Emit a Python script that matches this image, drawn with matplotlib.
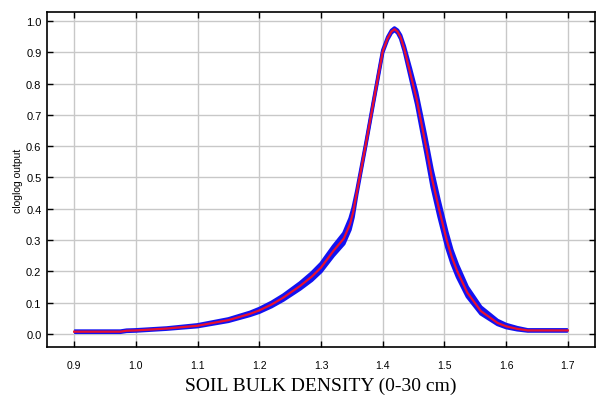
import matplotlib
matplotlib.use("Agg")
import matplotlib.pyplot as plt
import numpy as np

# Soil bulk density (x) and cloglog output (mean, lower, upper)
density = [0.900, 0.950, 0.975, 0.985, 1.000, 1.050, 1.100, 1.150, 1.185, 1.200,
           1.220, 1.239, 1.266, 1.285, 1.300, 1.320, 1.337, 1.347, 1.352, 1.358,
           1.364, 1.373, 1.386, 1.400, 1.408, 1.414, 1.419, 1.424, 1.429, 1.435,
           1.445, 1.455, 1.463, 1.470, 1.480, 1.491, 1.504, 1.512, 1.521, 1.537,
           1.559, 1.586, 1.600, 1.618, 1.635, 1.660, 1.700]
mean = [0.007, 0.007, 0.007, 0.010, 0.011, 0.017, 0.026, 0.044, 0.064, 0.075,
        0.094, 0.116, 0.153, 0.183, 0.212, 0.265, 0.305, 0.351, 0.388, 0.452,
        0.515, 0.610, 0.752, 0.903, 0.945, 0.966, 0.974, 0.966, 0.948, 0.910,
        0.830, 0.750, 0.670, 0.600, 0.495, 0.401, 0.297, 0.245, 0.199, 0.132,
        0.073, 0.035, 0.024, 0.016, 0.011, 0.011, 0.011]
lower = [0.005, 0.005, 0.005, 0.008, 0.009, 0.015, 0.023, 0.040, 0.059, 0.069,
         0.087, 0.108, 0.143, 0.171, 0.199, 0.250, 0.288, 0.333, 0.373, 0.446,
         0.510, 0.606, 0.748, 0.899, 0.941, 0.962, 0.970, 0.962, 0.943, 0.903,
         0.818, 0.733, 0.650, 0.578, 0.470, 0.376, 0.275, 0.226, 0.182, 0.119,
         0.064, 0.030, 0.020, 0.013, 0.009, 0.009, 0.009]
upper = [0.009, 0.009, 0.009, 0.012, 0.013, 0.019, 0.029, 0.048, 0.069, 0.081,
         0.101, 0.124, 0.163, 0.195, 0.225, 0.280, 0.322, 0.369, 0.403, 0.458,
         0.520, 0.614, 0.756, 0.907, 0.949, 0.970, 0.978, 0.971, 0.955, 0.920,
         0.848, 0.772, 0.696, 0.628, 0.525, 0.430, 0.325, 0.269, 0.221, 0.150,
         0.086, 0.043, 0.030, 0.020, 0.013, 0.013, 0.013]

xticks = [0.9, 1.0, 1.1, 1.2, 1.3, 1.4, 1.5, 1.6, 1.7]
yticks = [0.0, 0.1, 0.2, 0.3, 0.4, 0.5, 0.6, 0.7, 0.8, 0.9, 1.0]

fig = plt.figure(figsize=(5.97, 4.02), dpi=100)
ax = fig.add_axes([0.0787, 0.1343, 0.918, 0.8334])

blue = "#1212f2"
ax.fill_between(density, lower, upper, color=blue, lw=0, zorder=2)
ax.plot(density, lower, color=blue, lw=2.5, solid_capstyle="butt",
        solid_joinstyle="round", zorder=2)
ax.plot(density, upper, color=blue, lw=2.5, solid_capstyle="butt",
        solid_joinstyle="round", zorder=2)
ax.plot(density, mean, color="#e8102e", lw=1.6, solid_joinstyle="round", zorder=3)

ax.set_xlim(0.856, 1.744)
ax.set_ylim(-0.042, 1.029)
ax.set_xticks(xticks)
ax.set_yticks(yticks)
ax.set_xticklabels([f"{v:.1f}" for v in xticks], fontsize=7.5, family="Liberation Sans")
ax.set_yticklabels([f"{v:.1f}" for v in yticks], fontsize=8, family="Liberation Sans")
ax.tick_params(direction="in", top=True, right=True, length=4, width=1, color="black")
ax.tick_params(axis="x", pad=9)
ax.tick_params(axis="y", pad=4)
ax.grid(True, color="#c8c8c8", lw=1.0, zorder=0)
ax.set_axisbelow(True)
for s in ax.spines.values():
    s.set_linewidth(1.2)

ax.set_ylabel("cloglog output", fontsize=7.5, family="Liberation Sans", labelpad=2)
ax.set_xlabel("SOIL BULK DENSITY (0-30 cm)", fontsize=14, family="Liberation Serif", labelpad=5)

fig.savefig("out.png", dpi=100)
